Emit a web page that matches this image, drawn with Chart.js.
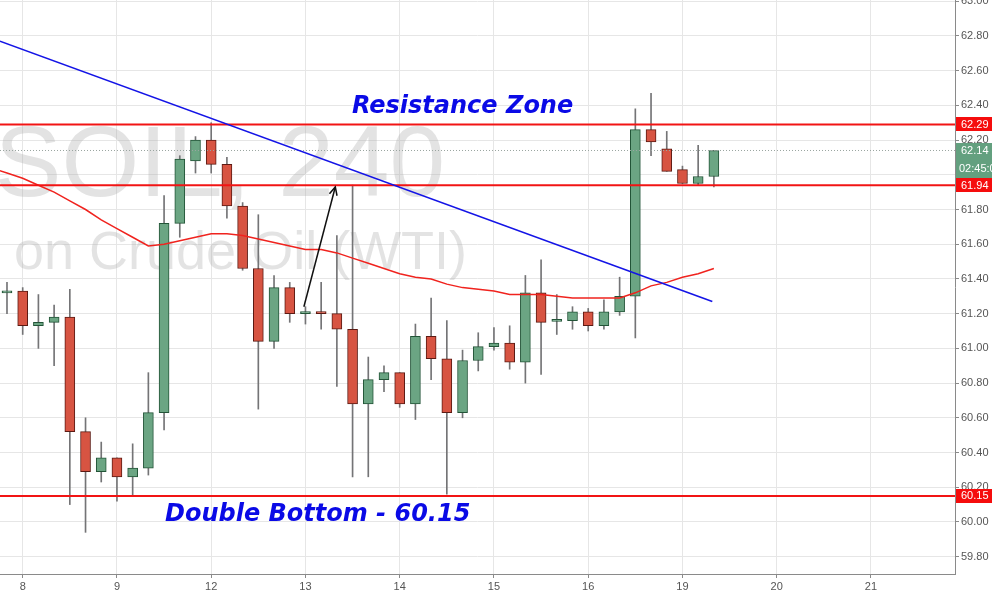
<!DOCTYPE html>
<html>
<head>
<meta charset="utf-8">
<script src="https://cdn.jsdelivr.net/npm/chart.js@4.4.0/dist/chart.umd.min.js"></script>
<style>
  html, body { margin: 0; padding: 0; background: #fff; }
</style>
</head>
<body>
<canvas id="chart" width="992" height="593"></canvas>
<script>
// 4h candles: slot 0 = first candle of day 8, six candles per trading day
const slots = [-1, 0, 1, 2, 3, 4, 5, 6, 7, 8, 9, 10, 11, 12, 13, 14, 15, 16, 17, 18, 19, 20, 21, 22,
  23, 24, 25, 26, 27, 28, 29, 30, 31, 32, 33, 34, 35, 36, 37, 38, 39, 40, 41, 42, 43, 44];
const opens = [61.32, 61.33, 61.13, 61.15, 61.18, 60.52, 60.29, 60.37, 60.26, 60.31, 60.63, 61.72,
  62.08, 62.20, 62.06, 61.82, 61.46, 61.04, 61.35, 61.20, 61.205, 61.20, 61.11, 60.68, 60.82, 60.86,
  60.68, 61.07, 60.94, 60.63, 60.93, 61.01, 61.03, 60.92, 61.32, 61.155, 61.16, 61.21, 61.13, 61.21,
  61.30, 62.26, 62.15, 62.03, 61.95, 61.99];
const highs = [61.38, 61.35, 61.31, 61.25, 61.34, 60.60, 60.46, 60.37, 60.45, 60.86, 61.88, 62.11,
  62.22, 62.30, 62.10, 61.84, 61.77, 61.42, 61.38, 61.24, 61.38, 61.65, 61.94, 60.95, 60.90, 60.86,
  61.14, 61.29, 61.16, 60.99, 61.09, 61.12, 61.13, 61.42, 61.51, 61.31, 61.24, 61.23, 61.28, 61.41,
  62.38, 62.47, 62.25, 62.05, 62.17, 62.14];
const lows = [61.20, 61.08, 61.00, 60.90, 60.10, 59.94, 60.23, 60.12, 60.15, 60.27, 60.53, 61.64,
  62.01, 62.01, 61.75, 61.45, 60.65, 61.00, 61.15, 61.14, 61.11, 60.78, 60.26, 60.26, 60.75, 60.66,
  60.59, 60.82, 60.16, 60.60, 60.87, 60.99, 60.88, 60.80, 60.85, 61.08, 61.11, 61.10, 61.11, 61.19,
  61.06, 62.11, 62.02, 61.95, 61.94, 61.93];
const closes = [61.33, 61.13, 61.15, 61.18, 60.52, 60.29, 60.37, 60.26, 60.31, 60.63, 61.72, 62.09,
  62.20, 62.06, 61.82, 61.46, 61.04, 61.35, 61.20, 61.205, 61.20, 61.11, 60.68, 60.82, 60.86, 60.68,
  61.07, 60.94, 60.63, 60.93, 61.01, 61.03, 60.92, 61.32, 61.15, 61.16, 61.21, 61.13, 61.21, 61.30,
  62.26, 62.19, 62.02, 61.95, 61.99, 62.14];

// moving average (red line)
const maSlots = [-2, -1, 0, 1, 2, 3, 4, 5, 6, 7, 8, 9, 10, 11, 12, 13, 14, 15, 16, 17, 18, 19, 20, 21,
  22, 23, 24, 25, 26, 27, 28, 29, 30, 31, 32, 33, 34, 35, 36, 37, 38, 39, 40, 41, 42, 43, 44];
const maValues = [62.04, 62.01, 61.98, 61.94, 61.90, 61.85, 61.80, 61.74, 61.69, 61.64, 61.59, 61.60,
  61.62, 61.64, 61.66, 61.66, 61.65, 61.63, 61.61, 61.59, 61.57, 61.57, 61.55, 61.52, 61.49, 61.46,
  61.43, 61.41, 61.40, 61.37, 61.35, 61.34, 61.33, 61.31, 61.31, 61.31, 61.30, 61.29, 61.29, 61.29,
  61.29, 61.32, 61.36, 61.38, 61.41, 61.43, 61.46];

// drawn objects
const trendSlots = [-1.45, 43.9];
const trendPrices = [62.77, 61.27];
const arrowSlots = [17.9, 19.9];
const arrowPrices = [61.24, 61.93];
const resistanceLevels = [62.29, 61.94];
const supportLevel = 60.15;
const lastPrice = 62.14;
const countdown = '02:45:0';

// axes
const dayTickSlots = [0, 6, 12, 18, 24, 30, 36, 42, 48, 54];
const dayLabels = ['8', '9', '12', '13', '14', '15', '16', '19', '20', '21'];
const yTicks = [59.8, 60.0, 60.2, 60.4, 60.6, 60.8, 61.0, 61.2, 61.4, 61.6, 61.8, 62.0, 62.2, 62.4,
  62.6, 62.8, 63.0];
const xMin = -1.445, xMax = 59.35;
const yMin = 59.70, yMax = 63.007;

const watermarkTitle = 'USOIL, 240';
const watermarkSub = 'on Crude Oil (WTI)';
const noteTop = 'Resistance Zone';
const noteBottom = 'Double Bottom - 60.15';

const UP = '#6ba583', DOWN = '#d75442';
const isUp = closes.map((c, i) => c >= opens[i]);
const FONT = '"Liberation Sans", Arial, sans-serif';

function hLine(price) {
  return [{ x: xMin, y: price }, { x: xMax, y: price }];
}

const watermarkPlugin = {
  id: 'watermark',
  beforeDatasetsDraw(chart) {
    const { ctx, chartArea } = chart;
    ctx.save();
    ctx.beginPath();
    ctx.rect(chartArea.left, chartArea.top, chartArea.width, chartArea.height);
    ctx.clip();
    ctx.fillStyle = 'rgba(170,170,170,0.33)';
    ctx.font = '100px ' + FONT;
    ctx.textAlign = 'right';
    ctx.textBaseline = 'alphabetic';
    ctx.fillText(watermarkTitle, 445, 196);
    ctx.font = '54px ' + FONT;
    ctx.textAlign = 'left';
    ctx.fillText(watermarkSub, 14, 269);
    ctx.restore();
  }
};

const overlayPlugin = {
  id: 'overlay',
  afterDatasetsDraw(chart) {
    const { ctx } = chart;
    const xs = chart.scales.x, ys = chart.scales.y;
    // arrow head
    const x0 = xs.getPixelForValue(arrowSlots[0]), y0 = ys.getPixelForValue(arrowPrices[0]);
    const x1 = xs.getPixelForValue(arrowSlots[1]), y1 = ys.getPixelForValue(arrowPrices[1]);
    const ang = Math.atan2(y1 - y0, x1 - x0);
    ctx.save();
    ctx.strokeStyle = '#111';
    ctx.lineWidth = 1.5;
    ctx.beginPath();
    ctx.moveTo(x1 - 9 * Math.cos(ang - 0.45), y1 - 9 * Math.sin(ang - 0.45));
    ctx.lineTo(x1, y1);
    ctx.lineTo(x1 - 9 * Math.cos(ang + 0.45), y1 - 9 * Math.sin(ang + 0.45));
    ctx.stroke();

    // notes
    ctx.fillStyle = '#0a0ae6';
    ctx.font = 'italic bold 24px "DejaVu Sans", Verdana, sans-serif';
    ctx.textAlign = 'left';
    ctx.textBaseline = 'alphabetic';
    ctx.fillText(noteTop, 352, 113);
    ctx.fillText(noteBottom, 165, 521);
    ctx.restore();
  },
  afterDraw(chart) {
    const { ctx, chartArea } = chart;
    const ys = chart.scales.y;
    const left = chartArea.right + 1, w = chart.width - left;
    ctx.save();
    ctx.font = '11px ' + FONT;
    ctx.textBaseline = 'middle';
    ctx.textAlign = 'left';
    const tag = (price, color, text) => {
      const y = ys.getPixelForValue(price);
      ctx.fillStyle = color;
      ctx.fillRect(left, Math.round(y) - 7, w, 14);
      ctx.fillStyle = '#fff';
      ctx.fillText(text, left + 5, y + 0.5);
    };
    // last price tag with countdown
    const yl = ys.getPixelForValue(lastPrice);
    ctx.fillStyle = '#63a07f';
    ctx.fillRect(left, Math.round(yl) - 7, w, 35);
    ctx.fillStyle = '#fff';
    ctx.fillText(lastPrice.toFixed(2), left + 5, yl + 0.5);
    ctx.fillText(countdown, left + 3, yl + 18);
    resistanceLevels.forEach(p => tag(p, '#f50d0d', p.toFixed(2)));
    tag(supportLevel, '#f50d0d', supportLevel.toFixed(2));
    ctx.restore();
  }
};

new Chart(document.getElementById('chart'), {
  type: 'bar',
  data: {
    datasets: [
      {
        label: 'wicks',
        data: slots.map((s, i) => ({ x: s, y: [lows[i], highs[i]] })),
        backgroundColor: '#747476',
        barThickness: 1,
        grouped: false,
        order: 10
      },
      {
        label: 'bodies',
        data: slots.map((s, i) => ({ x: s, y: [opens[i], closes[i]] })),
        backgroundColor: isUp.map(u => u ? UP : DOWN),
        borderColor: isUp.map(u => u ? '#225437' : '#5b1a13'),
        borderWidth: 1,
        borderSkipped: false,
        barThickness: 10,
        minBarLength: 2,
        grouped: false,
        order: 9
      },
      {
        type: 'line',
        label: 'MA',
        data: maSlots.map((s, i) => ({ x: s, y: maValues[i] })),
        borderColor: '#f0231e',
        borderWidth: 1.5,
        pointRadius: 0,
        tension: 0,
        order: 5
      },
      {
        type: 'line',
        label: 'last',
        data: hLine(lastPrice),
        borderColor: '#9aa5a0',
        borderWidth: 1,
        borderDash: [1, 2],
        pointRadius: 0,
        order: 6
      },
      ...resistanceLevels.concat([supportLevel]).map(p => ({
        type: 'line',
        label: 'level ' + p,
        data: hLine(p),
        borderColor: '#f21414',
        borderWidth: 2,
        pointRadius: 0,
        order: 4
      })),
      {
        type: 'line',
        label: 'trend',
        data: trendSlots.map((s, i) => ({ x: s, y: trendPrices[i] })),
        borderColor: '#1414e6',
        borderWidth: 1.6,
        pointRadius: 0,
        order: 3
      },
      {
        type: 'line',
        label: 'arrow',
        data: arrowSlots.map((s, i) => ({ x: s, y: arrowPrices[i] })),
        borderColor: '#111',
        borderWidth: 1.5,
        pointRadius: 0,
        order: 2
      }
    ]
  },
  options: {
    responsive: false,
    animation: false,
    devicePixelRatio: 1,
    layout: { padding: 0 },
    plugins: { legend: { display: false }, tooltip: { enabled: false } },
    scales: {
      x: {
        type: 'linear',
        position: 'bottom',
        min: xMin,
        max: xMax,
        offset: false,
        grid: { color: '#e6e6e6', offset: false, tickLength: 4, tickColor: '#8a8a8a' },
        border: { color: '#8a8a8a', width: 1 },
        ticks: {
          color: '#555',
          font: { size: 11, family: FONT },
          padding: 2,
          maxRotation: 0,
          autoSkip: false,
          callback: (v, i) => dayLabels[i]
        },
        afterBuildTicks: axis => { axis.ticks = dayTickSlots.map(v => ({ value: v })); },
        afterFit: scale => {
          scale.height = 19;
          scale.paddingLeft = 0;
          scale.paddingRight = 0;
        }
      },
      y: {
        type: 'linear',
        position: 'right',
        min: yMin,
        max: yMax,
        grid: { color: '#e6e6e6', tickLength: 4, tickColor: '#8a8a8a' },
        border: { color: '#8a8a8a', width: 1 },
        ticks: {
          color: '#555',
          font: { size: 11, family: FONT },
          padding: 2,
          callback: v => v.toFixed(2)
        },
        afterBuildTicks: axis => { axis.ticks = yTicks.map(v => ({ value: v })); },
        afterFit: scale => {
          scale.width = 37;
          scale.paddingTop = 0;
          scale.paddingBottom = 0;
        }
      }
    }
  },
  plugins: [watermarkPlugin, overlayPlugin]
});
</script>
</body>
</html>
